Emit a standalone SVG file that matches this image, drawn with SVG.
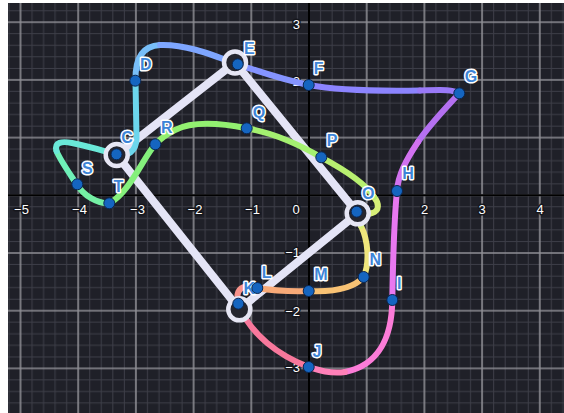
<svg xmlns="http://www.w3.org/2000/svg" width="564" height="413" viewBox="0 0 564 413">
<style>
.seg{fill:none;stroke-width:6;stroke-linecap:round;stroke-linejoin:round}
.quad{fill:none;stroke:#e4e4f6;stroke-width:8;stroke-linejoin:round;stroke-linecap:round}
.ring{fill:#25262f;stroke:#e6e6f4;stroke-width:4.5}
.dot{fill:#1565c0;stroke:#0a2550;stroke-width:1}
.lbl{font-family:"Liberation Sans",Arial,sans-serif;font-weight:bold;font-size:16px;fill:#3d85d8;stroke:#ffffff;stroke-width:3;paint-order:stroke;stroke-linejoin:round;text-anchor:middle}
.ax{font-family:"Liberation Sans",Arial,sans-serif;font-size:13px;fill:#ffffff;stroke:#15161c;stroke-width:3;paint-order:stroke;stroke-linejoin:round}
.axc{text-anchor:middle}
.axr{text-anchor:end}
</style>
<defs>
<pattern id="gridp" patternUnits="userSpaceOnUse" x="280.15" y="166.45" width="57.7" height="57.7">
<g stroke="#3d3e48" stroke-width="1">
<line x1="5.77" y1="0" x2="5.77" y2="57.7"/><line x1="17.31" y1="0" x2="17.31" y2="57.7"/><line x1="40.39" y1="0" x2="40.39" y2="57.7"/><line x1="51.93" y1="0" x2="51.93" y2="57.7"/>
<line y1="5.77" x1="0" y2="5.77" x2="57.7"/><line y1="17.31" x1="0" y2="17.31" x2="57.7"/><line y1="40.39" x1="0" y2="40.39" x2="57.7"/><line y1="51.93" x1="0" y2="51.93" x2="57.7"/>
</g>
<g stroke="#8e8e94" stroke-width="1.6">
<line x1="28.85" y1="0" x2="28.85" y2="57.7"/><line y1="28.85" x1="0" y2="28.85" x2="57.7"/>
</g>
</pattern>
</defs>
<rect x="0" y="0" width="564" height="413" fill="#ffffff"/>
<g id="grid">
<rect x="8" y="3" width="556" height="410" fill="#1f2028"/>
<rect x="8" y="3" width="556" height="410" fill="url(#gridp)"/>
</g>
<g id="axes">
<line x1="8" y1="195.3" x2="564" y2="195.3" stroke="#000000" stroke-width="2"/>
<line x1="309" y1="3" x2="309" y2="413" stroke="#000000" stroke-width="2"/>
<text class="ax axc" x="21.5" y="213.5">−5</text>
<text class="ax axc" x="79.5" y="213.5">−4</text>
<text class="ax axc" x="137.5" y="213.5">−3</text>
<text class="ax axc" x="195" y="213.5">−2</text>
<text class="ax axc" x="252.5" y="213.5">−1</text>
<text class="ax axc" x="296" y="213.5">0</text>
<text class="ax axc" x="367" y="213.5">1</text>
<text class="ax axc" x="424.5" y="213.5">2</text>
<text class="ax axc" x="482" y="213.5">3</text>
<text class="ax axc" x="540" y="213.5">4</text>
<text class="ax axr" x="300" y="28.5">3</text>
<text class="ax axr" x="300" y="85.7">2</text>
<text class="ax axr" x="300" y="142.4">1</text>
<text class="ax axr" x="300" y="257.4">−1</text>
<text class="ax axr" x="300" y="315.7">−2</text>
<text class="ax axr" x="300" y="372.4">−3</text>
</g>
<g id="connectors">
<polygon class="quad" points="116.7,155 235,62.5 357.7,213.3 239.3,309.3"/>
</g>
<g id="curve">
<path class="seg" stroke="#6ff0b8" d="M76.7,184.3 C70,174 60,160 56.5,151"/>
<path class="seg" stroke="#6ae8d8" d="M56.5,151 C54,142 62,141 72,143 C88,146 104,151 116.7,154.5"/>
<path class="seg" stroke="#6cd6ec" d="M116.7,154.5 C128,157 136.5,151 136.5,138 L135.5,80.7"/>
<path class="seg" stroke="#78bef8" d="M135.5,80.7 C135,62 140,46 160,45"/>
<path class="seg" stroke="#7ea6ff" d="M160,45 C185,44 210,54 237.7,64.3"/>
<path class="seg" stroke="#8594ff" d="M237.7,64.3 C260,72 285,80 308.7,85"/>
<path class="seg" stroke="#8c84ff" d="M308.7,85 C340,91 390,91 420,90.5"/>
<path class="seg" stroke="#9a7af8" d="M420,90.5 C440,90 452,89 459.3,93.3"/>
<path class="seg" stroke="#b470f0" d="M459.3,93.3 C445,109 430,124 418,142"/>
<path class="seg" stroke="#d272f0" d="M418,142 C406,160 398,175 397,191"/>
<path class="seg" stroke="#e878f0" d="M397,191 C394,220 393,260 392.3,300"/>
<path class="seg" stroke="#fc7cd8" d="M392.3,300 C392,335 380,365 345,372"/>
<path class="seg" stroke="#ff80b8" d="M345,372 C330,374 318,370 308.7,367"/>
<path class="seg" stroke="#f8789c" d="M308.7,367 C280,356 250,335 238.3,303.7"/>
<path class="seg" stroke="#f8928a" d="M238.3,303.7 C236,294 238,288 246,286.5 C250,286 254,287 257.3,288"/>
<path class="seg" stroke="#f8aa78" d="M257.3,288 C275,291 290,291.5 308.7,291"/>
<path class="seg" stroke="#f8c274" d="M308.7,291 C330,292 352,290 363.7,277"/>
<path class="seg" stroke="#f0e67c" d="M363.7,277 C370,262 368,240 361,226"/>
<path class="seg" stroke="#d8f078" d="M361,226 C358,219 366,214 372,213 C380,211 379,203 374,197"/>
<path class="seg" stroke="#b8f070" d="M374,197 C366,184 345,170 321.3,157.3"/>
<path class="seg" stroke="#a4f070" d="M321.3,157.3 C300,145 275,133 246.7,128.3"/>
<path class="seg" stroke="#92f070" d="M246.7,128.3 C225,124 195,120 175,130 C167,134 160,139 155.3,144.3"/>
<path class="seg" stroke="#84f07c" d="M155.3,144.3 C143,158 130,192 109.3,203.3"/>
<path class="seg" stroke="#74f0a4" d="M109.3,203.3 C98,204 84,196 76.7,184.3"/>
</g>
<g id="node-C"><circle class="ring" cx="116.7" cy="155" r="11"/><circle class="dot" cx="116.5" cy="154.3" r="5.5"/><text class="lbl" x="127" y="142.5">C</text></g>
<g id="node-D"><circle class="dot" cx="135.3" cy="80.7" r="5.5"/><text class="lbl" x="145.7" y="69.8">D</text></g>
<g id="node-E"><circle class="ring" cx="235" cy="62.5" r="11"/><circle class="dot" cx="237.7" cy="64.3" r="5.5"/><text class="lbl" x="249.3" y="53.5">E</text></g>
<g id="node-F"><circle class="dot" cx="308.7" cy="85" r="5.5"/><text class="lbl" x="318.7" y="74">F</text></g>
<g id="node-G"><circle class="dot" cx="459.3" cy="93.3" r="5.5"/><text class="lbl" x="471" y="81.8">G</text></g>
<g id="node-H"><circle class="dot" cx="397" cy="191" r="5.5"/><text class="lbl" x="408" y="179">H</text></g>
<g id="node-I"><circle class="dot" cx="392.3" cy="300" r="5.5"/><text class="lbl" x="399.3" y="288.5">I</text></g>
<g id="node-J"><circle class="dot" cx="308.7" cy="367" r="5.5"/><text class="lbl" x="317" y="356.8">J</text></g>
<g id="node-K"><circle class="ring" cx="239.3" cy="309.3" r="11"/><circle class="dot" cx="238.3" cy="303.7" r="5.5"/><text class="lbl" x="249.3" y="294">K</text></g>
<g id="node-L"><circle class="dot" cx="257.3" cy="288" r="5.5"/><text class="lbl" x="266.7" y="277.5">L</text></g>
<g id="node-M"><circle class="dot" cx="308.7" cy="291" r="5.5"/><text class="lbl" x="321" y="279.5">M</text></g>
<g id="node-N"><circle class="dot" cx="363.7" cy="277" r="5.5"/><text class="lbl" x="375.3" y="265">N</text></g>
<g id="node-O"><circle class="ring" cx="357.7" cy="213.3" r="11"/><circle class="dot" cx="356.7" cy="211.7" r="5.5"/><text class="lbl" x="368.3" y="199">O</text></g>
<g id="node-P"><circle class="dot" cx="321.3" cy="157.3" r="5.5"/><text class="lbl" x="332" y="145.8">P</text></g>
<g id="node-Q"><circle class="dot" cx="246.7" cy="128.3" r="5.5"/><text class="lbl" x="259" y="117.5">Q</text></g>
<g id="node-R"><circle class="dot" cx="155.3" cy="144.3" r="5.5"/><text class="lbl" x="166.7" y="132.5">R</text></g>
<g id="node-S"><circle class="dot" cx="77.3" cy="184.3" r="5.5"/><text class="lbl" x="87.3" y="173.5">S</text></g>
<g id="node-T"><circle class="dot" cx="109.3" cy="203.3" r="5.5"/><text class="lbl" x="118.3" y="191.8">T</text></g>
</svg>
